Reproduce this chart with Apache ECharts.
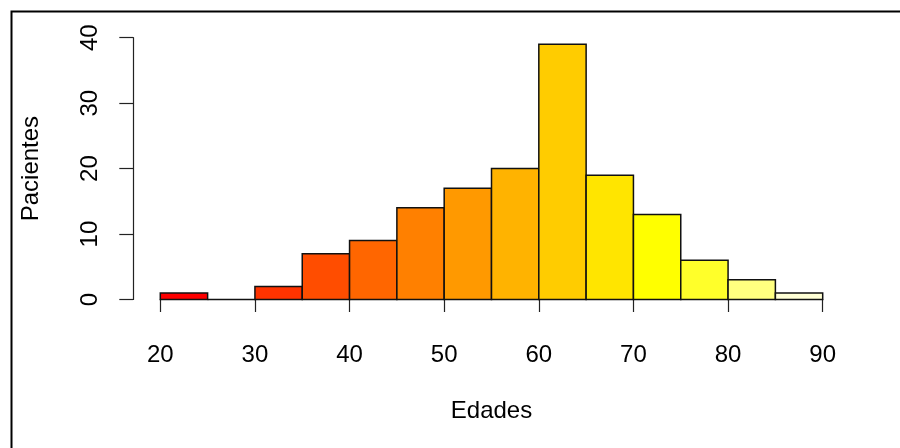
<!DOCTYPE html>
<html>
<head>
<meta charset="utf-8">
<title>Histograma de edades</title>
<script src="https://cdn.jsdelivr.net/npm/echarts@6/dist/echarts.min.js"></script>
<style>
  html, body { margin: 0; padding: 0; background: #fff; }
  #chart { width: 900px; height: 448px; }
</style>
</head>
<body>
<div id="chart"></div>
<script>
// histogram bins (Edades) and counts (Pacientes)
const binStarts = [20, 25, 30, 35, 40, 45, 50, 55, 60, 65, 70, 75, 80, 85];
const binEnds = [25, 30, 35, 40, 45, 50, 55, 60, 65, 70, 75, 80, 85, 90];
const counts = [1, 0, 2, 7, 9, 14, 17, 20, 39, 19, 13, 6, 3, 1];
const xTicks = [20, 30, 40, 50, 60, 70, 80, 90];
const yTicks = [0, 10, 20, 30, 40];

// R heat.colors(14)
const heatColors = [
  "#FF0000", "#FF1A00", "#FF3300", "#FF4D00", "#FF6600", "#FF8000", "#FF9900",
  "#FFB300", "#FFCC00", "#FFE500", "#FFFF00", "#FFFF2A", "#FFFF80", "#FFFFD5",
];

const font = "'Liberation Sans', Arial, Helvetica, sans-serif";
const textColor = "#000";
const fontSize = 24;

const chart = echarts.init(document.getElementById("chart"));

chart.setOption({
  animation: false,
  backgroundColor: "#fff",
  textStyle: { fontFamily: font },
  graphic: [
    {
      // figure box
      type: "rect",
      left: 9,
      top: 9,
      shape: { x: 0, y: 0, width: 1000, height: 1000 },
      style: { fill: null, stroke: "#000", lineWidth: 2 },
      silent: true,
    },
  ],
  grid: {
    left: 160.3,
    right: 77.3,
    top: 37.7,
    bottom: 148.5,
  },
  xAxis: {
    type: "value",
    min: xTicks[0],
    max: xTicks[xTicks.length - 1],
    interval: 10,
    offset: 10.5,
    name: "Edades",
    nameLocation: "middle",
    nameGap: 89,
    nameTextStyle: { fontSize: fontSize, color: textColor, fontFamily: font },
    axisLine: { show: true, lineStyle: { color: "#222", width: 1.2 } },
    axisTick: { show: true, length: 12.5, lineStyle: { color: "#222", width: 1.2 } },
    axisLabel: { fontSize: fontSize, color: textColor, margin: 33, fontFamily: font },
    splitLine: { show: false },
  },
  yAxis: {
    type: "value",
    min: yTicks[0],
    max: yTicks[yTicks.length - 1],
    interval: 10,
    offset: 27,
    name: "Pacientes",
    nameLocation: "middle",
    nameGap: 90,
    nameTextStyle: { fontSize: fontSize, color: textColor, fontFamily: font },
    axisLine: { show: true, lineStyle: { color: "#222", width: 1.2 } },
    axisTick: { show: true, length: 14, lineStyle: { color: "#222", width: 1.2 } },
    axisLabel: { fontSize: fontSize, color: textColor, margin: 31, rotate: 90, fontFamily: font },
    splitLine: { show: false },
  },
  series: [
    {
      type: "custom",
      clip: false,
      data: binStarts.map((s, i) => [s, binEnds[i], counts[i]]),
      encode: { x: [0, 1], y: 2 },
      renderItem: function (params, api) {
        const topLeft = api.coord([api.value(0), api.value(2)]);
        const bottomRight = api.coord([api.value(1), 0]);
        return {
          type: "rect",
          shape: {
            x: topLeft[0],
            y: topLeft[1],
            width: bottomRight[0] - topLeft[0],
            height: bottomRight[1] - topLeft[1],
          },
          style: {
            fill: heatColors[params.dataIndex],
            stroke: "#111",
            lineWidth: 1.5,
          },
        };
      },
    },
  ],
});
</script>
</body>
</html>
